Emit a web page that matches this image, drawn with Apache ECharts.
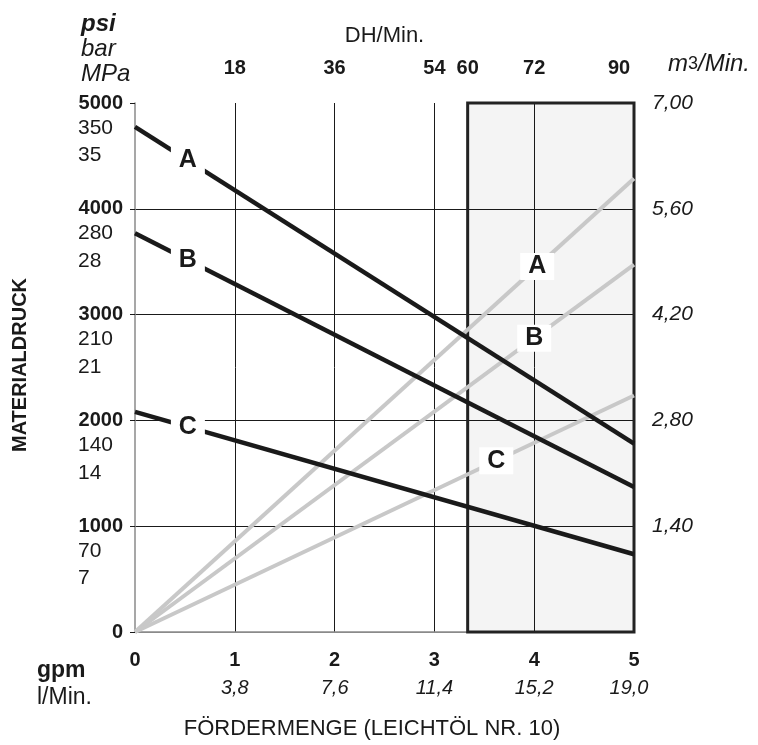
<!DOCTYPE html>
<html>
<head>
<meta charset="utf-8">
<script src="https://cdn.jsdelivr.net/npm/echarts@6/dist/echarts.min.js"></script>
<style>
html,body{margin:0;padding:0;background:#fff;}
#chart{width:758px;height:745px;}
</style>
</head>
<body>
<div id="chart"></div>
<script>
// ---- data ----
const flowGpm = [0, 5];                 // gpm
const pressureA = [4775, 1780];         // psi
const pressureB = [3770, 1370];
const pressureC = [2080, 735];
const airA = [0, 6.00];                 // m3/Min.
const airB = [0, 4.86];
const airC = [0, 3.13];
const curveNames = ['A', 'B', 'C'];
const pressureLabelX = [0.53, 0.53, 0.53];   // gpm where the pressure-curve letters sit
const airLabelX = [4.03, 4.0, 3.62];          // gpm where the air-curve letters sit
const barTicks = [70, 140, 210, 280, 350];
const mpaTicks = [7, 14, 21, 28, 35];
const lpmTicks = [3.8, 7.6, 11.4, 15.2, 19.0];
const dhTicks = [18, 36, 54, 60, 72, 90];
const m3Ticks = [1.4, 2.8, 4.2, 5.6, 7.0];
const shadedDH = [60, 90];

const FONT = '"Liberation Sans", Arial, Helvetica, sans-serif';
const INK = '#1a1a1a';

function interp(xs, ys, x) {
  return ys[0] + (ys[1] - ys[0]) * (x - xs[0]) / (xs[1] - xs[0]);
}
function pairs(ys) { return flowGpm.map((x, i) => [x, ys[i]]); }
function comma(v, d) { return v.toFixed(d).replace('.', ','); }

const labelBox = (name, coord) => ({
  coord: coord,
  symbol: 'rect',
  symbolSize: [34, 27],
  itemStyle: { color: '#fff' },
  label: { show: true, formatter: name, position: 'inside', color: INK,
           fontFamily: FONT, fontWeight: 'bold', fontSize: 25 }
});

const pressures = [pressureA, pressureB, pressureC];
const airs = [airA, airB, airC];

const series = [];
// shaded range box
series.push({
  type: 'line', data: [], xAxisIndex: 2, yAxisIndex: 0, silent: true, z: 1,
  markArea: {
    silent: true,
    itemStyle: { color: 'rgba(0,0,0,0.045)', borderColor: '#222', borderWidth: 3 },
    data: [[{ coord: [shadedDH[0], 0] }, { coord: [shadedDH[1], 5000] }]]
  }
});
// air consumption (grey) lines
airs.forEach((ys, i) => {
  series.push({
    type: 'line', name: 'Luft ' + curveNames[i], xAxisIndex: 0, yAxisIndex: 3,
    data: pairs(ys), showSymbol: false, z: 3,
    lineStyle: { color: '#c8c8c8', width: 4 },
    markPoint: { animation: false, data: [labelBox(curveNames[i], [airLabelX[i], interp(flowGpm, ys, airLabelX[i])])] }
  });
});
// pressure (black) lines
pressures.forEach((ys, i) => {
  series.push({
    type: 'line', name: curveNames[i], xAxisIndex: 0, yAxisIndex: 0,
    data: pairs(ys), showSymbol: false, z: 4,
    lineStyle: { color: INK, width: 4.5 },
    markPoint: { animation: false, data: [labelBox(curveNames[i], [pressureLabelX[i], interp(flowGpm, ys, pressureLabelX[i])])] }
  });
});

const option = {
  animation: false,
  backgroundColor: '#fff',
  grid: { left: 135, right: 124, top: 103, bottom: 109 },
  xAxis: [
    { // gpm
      type: 'value', position: 'bottom', min: 0, max: 5, interval: 1,
      name: 'FÖRDERMENGE (LEICHTÖL NR. 10)', nameLocation: 'middle', nameGap: 86,
      nameTextStyle: { fontFamily: FONT, fontSize: 22, color: INK, padding: [0, 25, 0, 0] },
      axisLine: { show: true, onZero: false, lineStyle: { color: '#8a8a8a', width: 1.5 } },
      axisTick: { show: false },
      axisLabel: { margin: 18, fontFamily: FONT, fontWeight: 'bold', fontSize: 20, color: INK,
                   showMinLabel: true, showMaxLabel: true, formatter: v => String(v) },
      splitLine: { show: true, showMinLine: false, showMaxLine: false, lineStyle: { color: INK, width: 1 } }
    },
    { // l/Min.
      type: 'value', position: 'bottom', min: 0, max: 19,
      axisLine: { show: false }, axisTick: { show: false }, splitLine: { show: false },
      axisLabel: {
        margin: 46, customValues: lpmTicks, color: INK,
        formatter: v => v === 19 ? '{r|' + comma(v, 1) + '}' : '{n|' + comma(v, 1) + '}',
        rich: {
          n: { fontFamily: FONT, fontStyle: 'italic', fontSize: 20, color: INK },
          r: { fontFamily: FONT, fontStyle: 'italic', fontSize: 20, color: INK, padding: [0, 10, 0, 0] }
        }
      }
    },
    { // DH/Min.
      type: 'value', position: 'top', min: 0, max: 90,
      name: 'DH/Min.', nameLocation: 'middle', nameGap: 56,
      nameTextStyle: { fontFamily: FONT, fontSize: 22, color: INK },
      axisLine: { show: true, lineStyle: { color: '#8a8a8a', width: 1 } },
      axisTick: { show: false }, splitLine: { show: false },
      axisLabel: {
        margin: 25, customValues: dhTicks, color: INK,
        formatter: v => v === 90 ? '{r|' + v + '}' : '{n|' + v + '}',
        rich: {
          n: { fontFamily: FONT, fontWeight: 'bold', fontSize: 20, color: INK },
          r: { fontFamily: FONT, fontWeight: 'bold', fontSize: 20, color: INK, padding: [0, 30, 0, 0] }
        }
      }
    }
  ],
  yAxis: [
    { // psi
      type: 'value', position: 'left', min: 0, max: 5000, interval: 1000,
      axisLine: { show: true, onZero: false, lineStyle: { color: '#8a8a8a', width: 1.5 } },
      axisTick: { show: true, length: 5, lineStyle: { color: INK } },
      axisLabel: { margin: 12, fontFamily: FONT, fontWeight: 'bold', fontSize: 20, color: INK,
                   showMinLabel: true, showMaxLabel: true, formatter: v => String(v) },
      splitLine: { show: true, showMinLine: false, showMaxLine: false, lineStyle: { color: INK, width: 1 } }
    },
    { // bar
      type: 'value', position: 'left', min: 0, max: 350,
      axisLine: { show: false }, axisTick: { show: false }, splitLine: { show: false },
      axisLabel: { margin: 57, align: 'left', verticalAlign: 'top', lineHeight: 16.5, customValues: barTicks,
                   hideOverlap: false, fontFamily: FONT, fontSize: 21, color: INK,
                   formatter: v => '\n' + v }
    },
    { // MPa
      type: 'value', position: 'left', min: 0, max: 35,
      axisLine: { show: false }, axisTick: { show: false }, splitLine: { show: false },
      axisLabel: { margin: 57, align: 'left', verticalAlign: 'top', lineHeight: 35, customValues: mpaTicks,
                   hideOverlap: false, fontFamily: FONT, fontSize: 21, color: INK,
                   formatter: v => '\n' + v }
    },
    { // m3/Min.
      type: 'value', position: 'right', min: 0, max: 7,
      axisLine: { show: false }, axisTick: { show: false }, splitLine: { show: false },
      axisLabel: { margin: 18, customValues: m3Ticks, fontFamily: FONT, fontStyle: 'italic', fontSize: 21, color: INK,
                   formatter: v => comma(v, 2) }
    }
  ],
  graphic: [
    { type: 'text', x: 81, y: 24, style: { text: 'psi', font: 'italic bold 24px ' + FONT, fill: INK, verticalAlign: 'middle' } },
    { type: 'text', x: 81, y: 49, style: { text: 'bar', font: 'italic 24px ' + FONT, fill: INK, verticalAlign: 'middle' } },
    { type: 'text', x: 81, y: 74, style: { text: 'MPa', font: 'italic 24px ' + FONT, fill: INK, verticalAlign: 'middle' } },
    { type: 'text', x: 668, y: 64, style: {
        text: '{i|m}{s|3}{i|/Min.}', verticalAlign: 'middle',
        rich: {
          i: { font: 'italic 24px ' + FONT, fill: INK },
          s: { font: '18px ' + FONT, fill: INK }
        } } },
    { type: 'text', x: 37, y: 671, style: { text: 'gpm', font: 'bold 23px ' + FONT, fill: INK, verticalAlign: 'middle' } },
    { type: 'text', x: 37, y: 698, style: { text: 'l/Min.', font: '23px ' + FONT, fill: INK, verticalAlign: 'middle' } },
    { type: 'text', x: 20, y: 365, rotation: Math.PI / 2, style: { text: 'MATERIALDRUCK', font: 'bold 20px ' + FONT, fill: INK, align: 'center', verticalAlign: 'middle' } }
  ],
  series: series
};

const chart = echarts.init(document.getElementById('chart'), null, { renderer: 'canvas' });
chart.setOption(option);
</script>
</body>
</html>
